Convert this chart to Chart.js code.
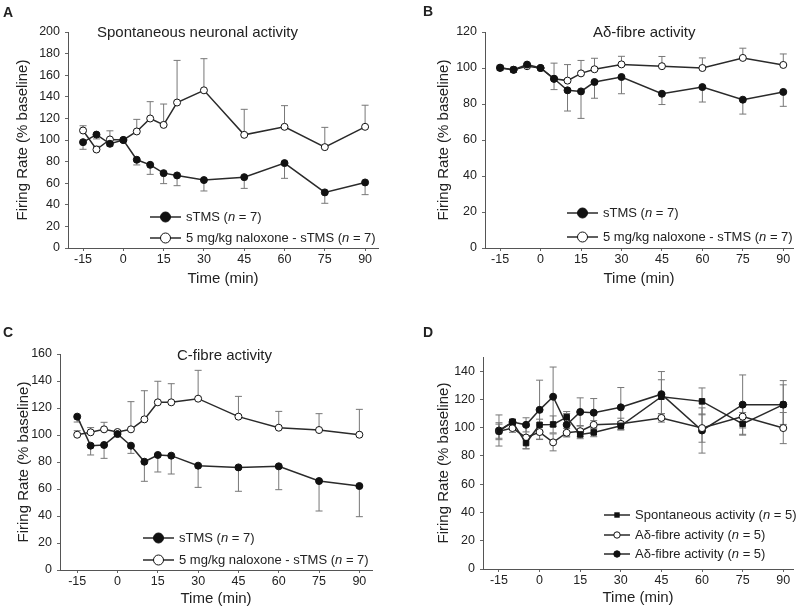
<!DOCTYPE html>
<html>
<head>
<meta charset="utf-8">
<script src="https://cdn.jsdelivr.net/npm/chart.js@4.4.1/dist/chart.umd.min.js"></script>
<style>
  body { margin: 0; background: #fff; font-family: "Liberation Sans", Arial, sans-serif; color: #222; }
  #wrap { position: relative; width: 800px; height: 610px; overflow: hidden; }
  canvas { position: absolute; }
  .letter { position: absolute; font-weight: bold; font-size: 14px; line-height: 14px; }
  .title { position: absolute; font-size: 15px; line-height: 18px; white-space: nowrap; }
  .legend { position: absolute; font-size: 13px; line-height: 16px; white-space: nowrap; }
  .legend div { display: flex; align-items: center; height: 16px; }
  .legend svg { margin-right: 5px; }
</style>
</head>
<body>
<div id="wrap">
  <canvas id="chartA" width="400" height="300" style="left:0;top:0"></canvas>
  <canvas id="chartB" width="400" height="300" style="left:400px;top:0"></canvas>
  <canvas id="chartC" width="400" height="310" style="left:0;top:300px"></canvas>
  <canvas id="chartD" width="400" height="310" style="left:400px;top:300px"></canvas>

  <div class="letter" style="left:3px;top:5px">A</div>
  <div class="letter" style="left:423px;top:4px">B</div>
  <div class="letter" style="left:3px;top:325px">C</div>
  <div class="letter" style="left:423px;top:325px">D</div>

  <div class="title" style="left:97px;top:23px">Spontaneous neuronal activity</div>
  <div class="title" style="left:593px;top:23px">Aδ-fibre activity</div>
  <div class="title" style="left:177px;top:346px">C-fibre activity</div>

  <div class="legend" style="left:150px;top:209px" id="legA"></div>
  <div class="legend" style="left:567px;top:205px" id="legB"></div>
  <div class="legend" style="left:143px;top:530px" id="legC"></div>
  <div class="legend" style="left:604px;top:507px" id="legD"></div>
</div>

<script>
// time points (min)
const times = [-15, -10, -5, 0, 5, 10, 15, 20, 30, 45, 60, 75, 90];
const xTicks = [-15, 0, 15, 30, 45, 60, 75, 90];

// A: spontaneous neuronal activity
const aSTMS = [98, 105, 96.5, 100, 81.7, 77, 69.3, 67.2, 62.9, 65.6, 78.6, 51.5, 60.7];
const aSTMSErr = [6.6, 4, 2, 0, 4.8, 8.8, 9.7, 9.5, 10.1, 10.4, 14.1, 10.1, 11.3];
const aNal = [108.8, 91.2, 100.5, 100, 107.9, 119.9, 114, 134.7, 146, 104.8, 112.2, 93.4, 112.2];
const aNalErr = [4.4, 3, 8, 0, 11.2, 15.6, 19.3, 39, 29.3, 23.6, 19.6, 18.3, 20];

// B: Aδ-fibre activity
const bSTMS = [100.2, 99, 101.9, 100, 94, 87.6, 87, 92.2, 95, 85.7, 89.4, 82.4, 86.7];
const bSTMSErr = [1.5, 1.5, 1.5, 0, 6, 11.5, 15, 9, 9.3, 6, 8.3, 8, 8];
const bNal = [100, 99, 101, 100, 94, 93, 97, 99.3, 102, 101, 100, 105.6, 101.7];
const bNalErr = [1.5, 1.5, 1.5, 0, 8.7, 8.9, 7.2, 6.1, 4.5, 5.4, 5.6, 5.4, 6.1];

// C: C-fibre activity
const cSTMS = [113.6, 92.1, 92.6, 100.7, 92.1, 80.2, 85.2, 84.7, 77.3, 76, 76.8, 65.9, 62.2];
const cSTMSErr = [4, 6.9, 9.9, 0, 5.7, 14.5, 12.6, 13.6, 16.1, 17.7, 17.3, 22.2, 22.7];
const cNal = [100.2, 102, 104.2, 102.2, 104.2, 111.6, 124.2, 124.2, 126.9, 113.6, 105.4, 103.7, 100.2];
const cNalErr = [3, 3.5, 5.2, 0, 20.5, 21.2, 15.6, 13.8, 21, 15, 12.1, 12.1, 18.8];

// D: controls (n = 5)
const dSpont = [97.5, 103.9, 89.1, 102, 102.3, 107.4, 95.2, 96.6, 101.3, 121.9, 118.6, 102.7, 116.3];
const dSpontErr = [5, 2, 4, 4, 6, 4, 3, 3, 3, 12, 9.5, 8, 14];
const dAdOpen = [97.5, 99.7, 93, 96.9, 89.6, 96.4, 97.5, 102, 102.7, 106.9, 99.7, 107.8, 99.7];
const dAdOpenErr = [6, 3, 8, 5, 6, 3, 4, 3, 4, 3, 10, 8, 11];
const dAdFilled = [98, 104, 102, 112.6, 121.9, 102, 111.1, 110.6, 114.4, 123.7, 98, 116.3, 116.3];
const dAdFilledErr = [11, 2, 5, 21, 21, 8, 10, 10, 14, 16, 16, 21, 17];

Chart.defaults.font.family = '"Liberation Sans", Arial, sans-serif';
Chart.defaults.color = '#222';

const INK = '#2a2a2a';

// draws vertical error bars under the lines, using the chart's scales
const errorBars = {
  id: 'errorBars',
  beforeDatasetsDraw(chart) {
    const { ctx, scales: { x, y } } = chart;
    ctx.save();
    ctx.strokeStyle = '#777';
    ctx.lineWidth = 1;
    chart.data.datasets.forEach(ds => {
      if (!ds.err) return;
      ds.data.forEach((pt, j) => {
        const e = ds.err[j];
        if (!e) return;
        const px = x.getPixelForValue(pt.x);
        const py = y.getPixelForValue(pt.y);
        const ends = [];
        if (ds.errDir !== 'down') ends.push(y.getPixelForValue(pt.y + e));
        if (ds.errDir !== 'up') ends.push(y.getPixelForValue(pt.y - e));
        ends.forEach(ey => {
          ctx.beginPath();
          ctx.moveTo(px, py);
          ctx.lineTo(px, ey);
          ctx.moveTo(px - 3.5, ey);
          ctx.lineTo(px + 3.5, ey);
          ctx.stroke();
        });
      });
    });
    ctx.restore();
  }
};

function series(label, values, err, dir, style) {
  const filled = style !== 'open';
  return {
    label: label,
    data: times.map((t, i) => ({ x: t, y: values[i] })),
    err: err,
    errDir: dir,
    borderColor: INK,
    borderWidth: 1.5,
    tension: 0,
    pointStyle: style === 'square' ? 'rect' : 'circle',
    pointRadius: style === 'square' ? 3.9 : 3.5,
    pointBorderWidth: 1,
    pointBorderColor: '#111',
    pointBackgroundColor: filled ? '#111' : '#fff'
  };
}

function makeChart(id, o) {
  const ySteps = [];
  for (let v = 0; v <= o.yTop; v += 20) ySteps.push(v);
  new Chart(document.getElementById(id), {
    type: 'line',
    data: { datasets: o.datasets },
    options: {
      responsive: false,
      animation: false,
      layout: { padding: { top: o.area.top, right: o.w - o.area.right, left: 0, bottom: 0 } },
      plugins: { legend: { display: false }, tooltip: { enabled: false } },
      scales: {
        x: {
          type: 'linear',
          min: o.xMin,
          max: o.xMax,
          afterBuildTicks: axis => { axis.ticks = xTicks.map(v => ({ value: v })); },
          afterFit: axis => { axis.height = o.h - o.area.bottom; },
          grid: { drawOnChartArea: false, tickLength: 3, color: '#666' },
          border: { color: '#555', width: 1 },
          ticks: { font: { size: 12.5 }, padding: 1, maxRotation: 0, autoSkip: false },
          title: { display: true, text: 'Time (min)', font: { size: 15 }, padding: { bottom: o.xTitlePad, top: 0 } }
        },
        y: {
          min: 0,
          max: o.yMax,
          afterBuildTicks: axis => { axis.ticks = ySteps.map(v => ({ value: v })); },
          afterFit: axis => { axis.width = o.area.left; },
          grid: { drawOnChartArea: false, tickLength: 3, color: '#666' },
          border: { color: '#555', width: 1 },
          ticks: { font: { size: 12.5 }, padding: 5 },
          title: { display: true, text: 'Firing Rate (% baseline)', font: { size: 15 }, padding: { top: o.yTitlePad, bottom: 0 } }
        }
      }
    },
    plugins: [errorBars]
  });
}

makeChart('chartA', {
  w: 400, h: 300, area: { left: 68, right: 378, top: 32, bottom: 248 },
  xMin: -20.6, xMax: 94.8, yMax: 200, yTop: 200, yTitlePad: 14, xTitlePad: 12,
  datasets: [
    series('sTMS', aSTMS, aSTMSErr, 'down', 'filled'),
    series('5 mg/kg naloxone - sTMS', aNal, aNalErr, 'up', 'open')
  ]
});

makeChart('chartB', {
  w: 400, h: 300, area: { left: 85, right: 393, top: 32, bottom: 248 },
  xMin: -20.6, xMax: 93.6, yMax: 120, yTop: 120, yTitlePad: 35, xTitlePad: 12,
  datasets: [
    series('sTMS', bSTMS, bSTMSErr, 'down', 'filled'),
    series('5 mg/kg naloxone - sTMS', bNal, bNalErr, 'up', 'open')
  ]
});

makeChart('chartC', {
  w: 400, h: 310, area: { left: 60, right: 372, top: 54, bottom: 270 },
  xMin: -21.4, xMax: 94.7, yMax: 160, yTop: 160, yTitlePad: 15, xTitlePad: 2,
  datasets: [
    series('sTMS', cSTMS, cSTMSErr, 'down', 'filled'),
    series('5 mg/kg naloxone - sTMS', cNal, cNalErr, 'up', 'open')
  ]
});

makeChart('chartD', {
  w: 400, h: 310, area: { left: 83, right: 393, top: 57, bottom: 269 },
  xMin: -20.9, xMax: 93.6, yMax: 150, yTop: 140, yTitlePad: 35, xTitlePad: 3,
  datasets: [
    series('Spontaneous activity', dSpont, dSpontErr, 'both', 'square'),
    series('Aδ-fibre activity', dAdOpen, dAdOpenErr, 'both', 'open'),
    series('Aδ-fibre activity', dAdFilled, dAdFilledErr, 'both', 'filled')
  ]
});

// HTML legends: line sample with marker, then label text
function sample(style, big) {
  const w = big ? 31 : 26, cx = big ? 15.5 : 13, r = big ? 5 : 3.2;
  let mark;
  if (style === 'square') mark = `<rect x="${cx - 2.7}" y="3.3" width="5.4" height="5.4" fill="#111"/>`;
  else mark = `<circle cx="${cx}" cy="6" r="${r}" fill="${style === 'open' ? '#fff' : '#111'}" stroke="#111" stroke-width="1"/>`;
  return `<svg width="${w}" height="12"><line x1="0" y1="6" x2="${w}" y2="6" stroke="${INK}" stroke-width="1.5"/>${mark}</svg>`;
}
function legend(id, items, big, gap) {
  document.getElementById(id).innerHTML = items.map(it =>
    `<div style="margin-bottom:${gap}px">${sample(it[0], big)}<span>${it[1]} (<i>n</i> = ${it[2]})</span></div>`
  ).join('');
}
const legPair = [['filled', 'sTMS', 7], ['open', '5 mg/kg naloxone - sTMS', 7]];
legend('legA', legPair, true, 5);
legend('legB', legPair, true, 8);
legend('legC', legPair, true, 6);
legend('legD', [['square', 'Spontaneous activity', 5], ['open', 'Aδ-fibre activity', 5], ['filled', 'Aδ-fibre activity', 5]], false, 3.5);
</script>
</body>
</html>
